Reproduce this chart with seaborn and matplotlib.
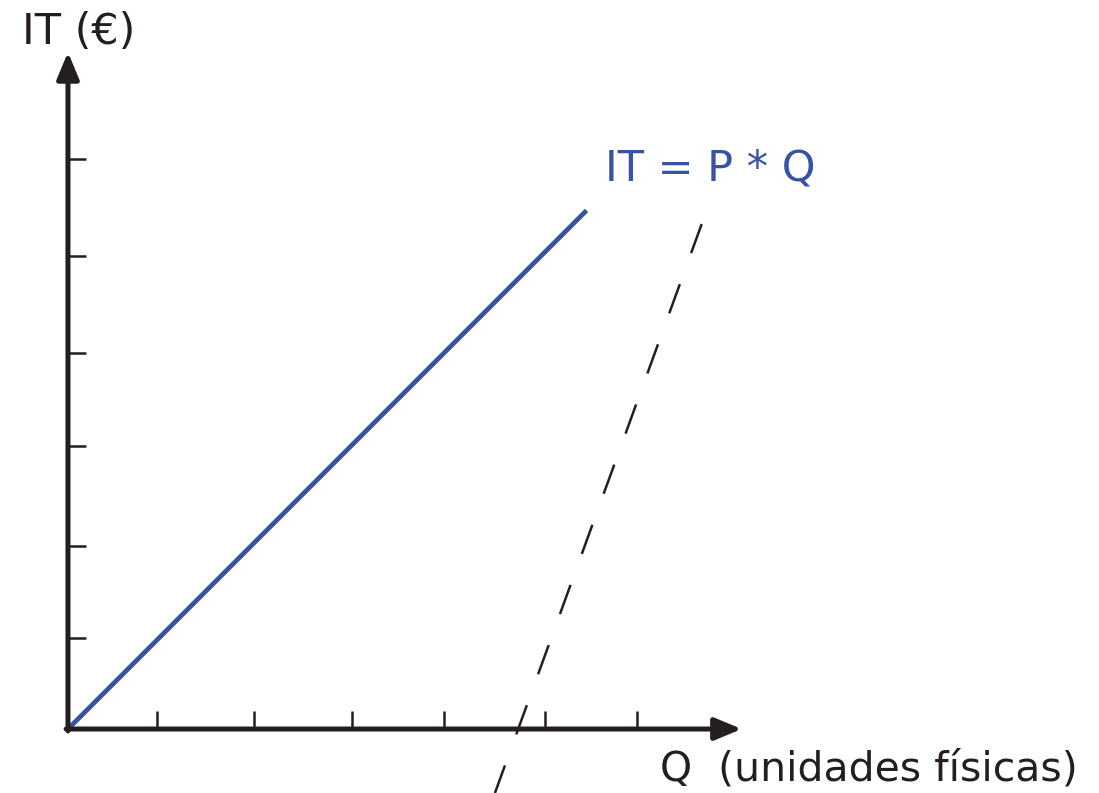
import matplotlib
matplotlib.use("Agg")
import matplotlib.pyplot as plt
import seaborn as sns
import pandas as pd

# ---- data (in axis units) ----
it_q = [0.0, 5.47]          # IT = P*Q line, Q values
it_val = [0.0, 5.47]        # IT values
dash_q = [6.685, 4.504]     # dashed line, Q values (drawn from top down)
dash_val = [5.327, -0.675]  # dashed line, IT values
x_ticks = [0.94, 1.96, 3.0, 3.97, 5.03, 6.0]
y_ticks = [0.96, 1.93, 2.985, 3.97, 4.99, 6.01]
x_arrow_tip = 7.107
y_arrow_tip = 7.14

ylabel_text = "IT (€)"
xlabel_text = "Q  (unidades físicas)"
line_label = "IT = P * Q"

BLUE = "#3953a4"
BLACK = "#231f20"

sns.set_style("white")
plt.rcParams["font.family"] = ["DejaVu Sans"]

fig = plt.figure(figsize=(10.99, 7.93), dpi=100)
ax = fig.add_axes([0, 0, 1, 1])
ax.set_xlim(-0.717, 10.876)
ax.set_ylim(-0.675, 7.690)

df_it = pd.DataFrame({"Q": it_q, "IT": it_val})
df_dash = pd.DataFrame({"Q": dash_q, "IT": dash_val})

sns.lineplot(data=df_it, x="Q", y="IT", ax=ax, color=BLUE, linewidth=3.4,
             sort=False, solid_capstyle="butt", zorder=3)
sns.lineplot(data=df_dash, x="Q", y="IT", ax=ax, color=BLACK, linewidth=1.8,
             sort=False, zorder=3)
ax.lines[-1].set_dashes((12.4, 13.2))
ax.lines[-1].set_dash_capstyle("butt")

# axes with arrows
for s in ax.spines.values():
    s.set_visible(False)
ax.spines["left"].set_position(("data", 0))
ax.spines["bottom"].set_position(("data", 0))

arrow_kw = dict(arrowstyle="-|>,head_length=0.65,head_width=0.27", lw=3.6,
                color=BLACK, shrinkA=0, shrinkB=0, mutation_scale=25)
ax.annotate("", xy=(0, y_arrow_tip), xytext=(0, -0.02), arrowprops=arrow_kw, zorder=4)
ax.annotate("", xy=(x_arrow_tip, 0), xytext=(-0.02, 0), arrowprops=arrow_kw, zorder=4)

ax.set_xticks(x_ticks)
ax.set_yticks(y_ticks)
ax.set_xticklabels([])
ax.set_yticklabels([])
ax.tick_params(axis="both", direction="in", length=13, width=1.8,
               colors=BLACK, left=True, bottom=True)
ax.set_xlabel("")
ax.set_ylabel("")
ax.grid(False)

ax.text(-0.485, 7.226, ylabel_text, fontsize=31, color=BLACK,
        ha="left", va="baseline")
ax.text(6.245, -0.538, xlabel_text, fontsize=29.5, color=BLACK,
        ha="left", va="baseline")
ax.text(5.665, 5.79, line_label, fontsize=31, color=BLUE,
        ha="left", va="baseline")

fig.savefig("out.png", dpi=100)
